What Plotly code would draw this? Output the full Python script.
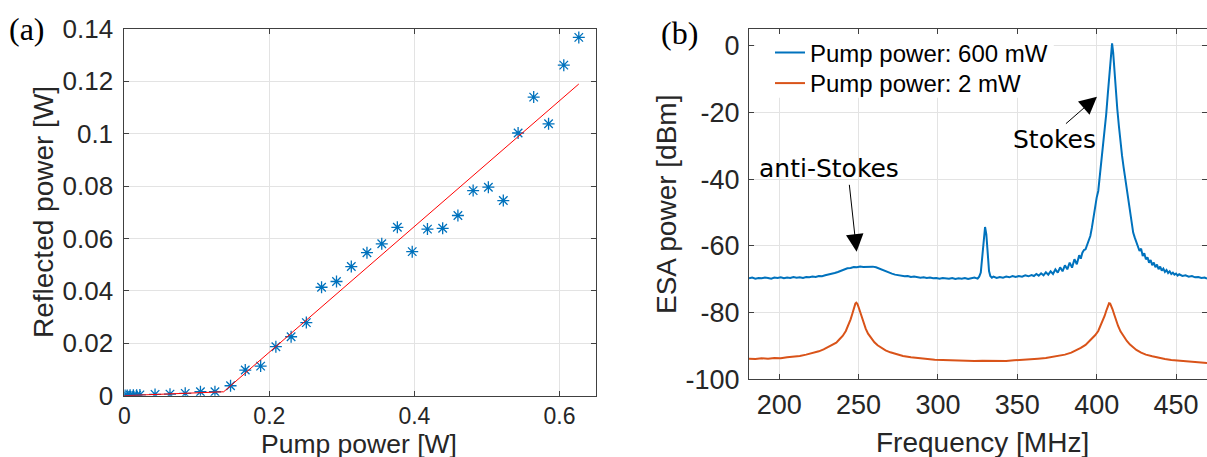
import plotly.graph_objects as go

# ---------------- Panel (a) data ----------------
pump_w = [0.001, 0.004, 0.008, 0.0125, 0.017, 0.0215, 0.0424, 0.063, 0.084, 0.105,
          0.125, 0.1465, 0.1668, 0.188, 0.209, 0.230, 0.251, 0.272, 0.2926, 0.313,
          0.3346, 0.355, 0.3765, 0.397, 0.418, 0.439, 0.460, 0.481, 0.502, 0.5226,
          0.543, 0.5645, 0.585, 0.606, 0.6267]
reflected_w = [0.0001, 0.0001, 0.0002, 0.0002, 0.0002, 0.0003, 0.0005, 0.0006, 0.0009, 0.0015,
               0.0015, 0.0038, 0.0098, 0.0113, 0.0187, 0.0225, 0.0279, 0.0414, 0.0436, 0.0493,
               0.0546, 0.0580, 0.0643, 0.0550, 0.0636, 0.0639, 0.0688, 0.0783, 0.0796, 0.0745,
               0.1003, 0.1140, 0.1038, 0.1262, 0.1368]
fit_x = [0.0, 0.137, 0.6267]
fit_y = [0.0, 0.0015, 0.119]

a_xticks = [0, 0.2, 0.4, 0.6]
a_xticktext = ["0", "0.2", "0.4", "0.6"]
a_yticks = [0, 0.02, 0.04, 0.06, 0.08, 0.1, 0.12, 0.14]
a_yticktext = ["0", "0.02", "0.04", "0.06", "0.08", "0.1", "0.12", "0.14"]

# ---------------- Panel (b) data ----------------
freq_600 = [181, 183, 185, 187, 189, 191, 193, 195, 197, 199, 201, 203, 205, 207, 209, 211, 213, 215,
            217, 219, 221, 223, 225, 227, 229, 231, 233, 235, 237, 239, 241, 243, 245, 247, 249, 251,
            253, 255, 257, 259, 261, 263, 265, 267, 269, 271, 273, 275, 277, 279, 281, 283, 285, 287,
            289, 291, 293, 295, 297, 299, 301, 303, 305, 307, 309, 311, 313, 315, 317, 319, 321, 323,
            325, 326, 327, 328, 329, 329.7, 330.5, 331.3, 332.2, 333, 334, 335, 337, 339, 341, 343,
            345, 347, 349, 351, 353, 355, 357, 359, 360.5, 362, 363.5, 365, 366.5, 368, 369.5, 371,
            372.5, 374, 375.5, 377, 378.5, 380, 381.5, 383, 384.5, 386, 387.5, 389, 390, 391, 392,
            393, 394, 395, 396, 397, 398, 399, 400, 401, 402, 403, 404, 405, 406, 407, 408, 409,
            409.7, 410.4, 411, 412, 413, 414, 415, 416, 417, 418, 419, 420, 421, 422, 423, 424, 425,
            426, 427, 428, 429, 430, 431, 432, 433, 434, 435, 436, 437, 438, 439, 440, 441, 442, 443,
            444, 445, 446, 447, 448, 449, 450, 451, 452, 454, 456, 458, 460, 462, 464, 466, 468, 469.5]
esa_600 = [-69.7, -69.5, -69.8, -69.6, -69.7, -69.5, -69.6, -69.8, -69.5, -69.6, -69.4, -69.7, -69.5,
           -69.6, -69.3, -69.5, -69.4, -69.6, -69.3, -69.4, -69.2, -69.3, -69.0, -69.1, -68.8, -68.6,
           -68.5, -68.1, -67.8, -67.4, -67.1, -66.7, -66.6, -66.3, -66.4, -66.2, -66.3, -66.2, -66.3,
           -66.2, -66.4, -66.8, -67.3, -67.7, -68.0, -68.3, -68.6, -68.8, -69.0, -69.1, -69.0, -69.3,
           -69.2, -69.4, -69.5, -69.4, -69.6, -69.5, -69.7, -69.6, -69.8, -69.6, -69.7, -69.8, -69.6,
           -69.9, -69.7, -69.8, -69.6, -69.9, -69.7, -69.5, -69.8, -69.2, -68.0, -63.5, -57.0, -54.3,
           -56.5, -62.0, -67.5, -69.0, -69.5, -69.2, -69.6, -69.3, -69.5, -69.2, -69.4, -69.0, -69.3,
           -69.0, -69.2, -68.8, -69.1, -68.7, -69.0, -68.4, -68.9, -68.2, -68.8, -67.9, -68.6, -67.6,
           -68.4, -67.0, -68.0, -66.4, -67.6, -65.8, -67.0, -65.0, -66.5, -64.0, -65.5, -62.8, -63.8,
           -62.0, -61.2, -61.0, -59.5, -58.5, -57.0, -54.5, -51.0, -47.5, -45.5, -43.5, -39.0, -35.0,
           -31.0, -26.0, -20.5, -14.5, -8.5, -2.5, 0.8, -2.0, -6.5, -13.0, -19.0, -24.0, -29.0, -33.0,
           -36.5, -39.8, -42.5, -45.0, -48.5, -52.5, -56.0, -57.5, -59.0, -59.8, -61.5, -60.8, -63.0,
           -62.2, -64.0, -63.4, -65.0, -64.2, -65.8, -65.0, -66.4, -65.6, -67.0, -66.2, -67.4, -66.8,
           -67.8, -67.2, -68.1, -67.6, -68.4, -68.0, -68.6, -68.3, -68.9, -68.5, -69.0, -68.8, -69.2,
           -69.0, -69.4, -69.3, -69.6, -69.5, -69.8]

freq_2 = [181, 185, 189, 193, 197, 201, 205, 209, 213, 217, 221, 225, 228, 231, 234, 236, 238, 240,
          242, 243.5, 245, 246, 247, 248, 248.6, 249.3, 250, 251, 252, 253, 254.5, 256, 258, 260,
          262, 264, 267, 270, 274, 278, 283, 288, 293, 298, 303, 308, 313, 318, 323, 328, 333, 338,
          343, 348, 353, 358, 363, 368, 372, 376, 380, 384, 387, 390, 393, 395, 397, 399, 401, 402.5,
          404, 405, 406, 407, 407.8, 408.5, 409.3, 410, 411, 412, 413.5, 415, 417, 419, 421, 423,
          425, 428, 431, 435, 439, 443, 447, 451, 455, 459, 463, 467, 469.5]
esa_2 = [-93.8, -93.9, -93.7, -93.8, -93.6, -93.7, -93.4, -93.3, -93.0, -92.6, -92.2, -91.6, -91.0,
         -90.3, -89.6, -89.0, -88.0, -87.0, -85.5, -84.0, -82.0, -80.5, -78.8, -77.3, -77.0, -77.4,
         -78.3, -79.8, -81.5, -83.0, -84.8, -86.3, -87.8, -88.9, -89.8, -90.5, -91.3, -91.9, -92.5,
         -93.0, -93.4, -93.7, -93.9, -94.1, -94.2, -94.3, -94.4, -94.3, -94.5, -94.4, -94.5, -94.4,
         -94.5, -94.3, -94.2, -94.0, -93.8, -93.6, -93.3, -93.0, -92.6, -92.0, -91.4, -90.6, -89.7,
         -88.8, -87.8, -86.8, -85.5, -84.0, -82.5, -81.0, -79.5, -78.0, -77.2, -77.3, -78.0, -79.0,
         -80.5, -82.0, -84.0, -85.6, -87.2, -88.5, -89.6, -90.5, -91.2, -92.0, -92.6, -93.1, -93.6,
         -93.9, -94.2, -94.4, -94.6, -94.7, -94.9, -95.0, -95.1]

b_xticks = [200, 250, 300, 350, 400, 450]
b_xticktext = ["200", "250", "300", "350", "400", "450"]
b_yticks = [0, -20, -40, -60, -80, -100]
b_yticktext = ["0", "-20", "-40", "-60", "-80", "-100"]

W, H = 1207, 457
SANS = "Liberation Sans, Arial, sans-serif"
AX = "#404040"
GRID = "#e3e3e3"


def px(xp):
    return xp / W


def py(yp):
    return 1 - yp / H


fig = go.Figure()

fig.add_trace(go.Scatter(x=pump_w, y=reflected_w, mode="markers", showlegend=False,
                         marker=dict(symbol="asterisk-open", size=10, color="#0072BD",
                                     line=dict(color="#0072BD", width=1.3)),
                         xaxis="x", yaxis="y"))
fig.add_trace(go.Scatter(x=fit_x, y=fit_y, mode="lines", showlegend=False,
                         line=dict(color="#ff0000", width=1), xaxis="x", yaxis="y"))

fig.add_trace(go.Scatter(x=freq_600, y=esa_600, mode="lines", name="Pump power: 600 mW",
                         line=dict(color="#0072BD", width=2), xaxis="x2", yaxis="y2",
                         legend="legend"))
fig.add_trace(go.Scatter(x=freq_2, y=esa_2, mode="lines", name="Pump power: 2 mW",
                         line=dict(color="#D95319", width=2), xaxis="x2", yaxis="y2",
                         legend="legend2"))

common = dict(showline=True, linecolor=AX, linewidth=1, mirror="ticks", ticks="inside",
              ticklen=5, tickcolor=AX, showgrid=True, gridcolor=GRID, gridwidth=1,
              zeroline=False, tickmode="array", automargin=False)

legend_font = dict(family=SANS, size=24, color="#000000")

fig.update_layout(
    template="none",
    width=W, height=H,
    margin=dict(l=0, r=0, t=0, b=0, pad=0, autoexpand=False),
    paper_bgcolor="white", plot_bgcolor="white",
    font=dict(family=SANS, color="#262626"),
    hovermode=False,
    xaxis=dict(domain=[px(124.3), px(595.7)], range=[0, 0.65], anchor="y",
               tickvals=a_xticks, ticktext=a_xticktext,
               tickfont=dict(size=23, color="#262626"), ticklabelstandoff=0, **common),
    yaxis=dict(domain=[py(395.7), py(29)], range=[0, 0.14], anchor="x",
               tickvals=a_yticks, ticktext=a_yticktext,
               tickfont=dict(size=26, color="#262626"), ticklabelstandoff=5, **common),
    xaxis2=dict(domain=[px(749), 1.0], range=[181, 469.5], anchor="y2",
                tickvals=b_xticks, ticktext=b_xticktext,
                tickfont=dict(size=27, color="#262626"), ticklabelstandoff=1, **common),
    yaxis2=dict(domain=[py(379.3), py(29.3)], range=[-100, 5], anchor="x2",
                tickvals=b_yticks, ticktext=b_yticktext,
                tickfont=dict(size=27, color="#262626"), ticklabelstandoff=3, **common),
    legend=dict(x=px(770), y=py(30.5), xanchor="left", yanchor="top",
                bgcolor="rgba(0,0,0,0)", borderwidth=0, font=legend_font),
    legend2=dict(x=px(770), y=py(61), xanchor="left", yanchor="top",
                 bgcolor="rgba(0,0,0,0)", borderwidth=0, font=legend_font),
    shapes=[dict(type="rect", xref="x2", yref="y2", x0=185, x1=373, y0=-15.5, y1=4.6,
                 fillcolor="white", line=dict(width=0), layer="between")],
)

annotations = [
    # panel labels
    dict(text="(a)", x=px(26.5), y=py(29), xref="paper", yref="paper", showarrow=False,
         font=dict(family="Liberation Serif, Times New Roman, serif", size=32, color="#000"),
         xanchor="center", yanchor="middle"),
    dict(text="(b)", x=px(679), y=py(33), xref="paper", yref="paper", showarrow=False,
         font=dict(family="Liberation Serif, Times New Roman, serif", size=32, color="#000"),
         xanchor="center", yanchor="middle"),
    # axis titles
    dict(text="Reflected power [W]", x=px(43), y=py(212), xref="paper", yref="paper",
         showarrow=False, textangle=-90, font=dict(family=SANS, size=28, color="#262626"),
         xanchor="center", yanchor="middle"),
    dict(text="Pump power [W]", x=px(359.5), y=py(427), xref="paper", yref="paper",
         showarrow=False, font=dict(family=SANS, size=26.5, color="#262626"),
         xanchor="center", yanchor="top"),
    dict(text="ESA power [dBm]", x=px(666), y=py(205), xref="paper", yref="paper",
         showarrow=False, textangle=-90, font=dict(family=SANS, size=28, color="#262626"),
         xanchor="center", yanchor="middle"),
    dict(text="Frequency [MHz]", x=px(982.5), y=py(425), xref="paper", yref="paper",
         showarrow=False, font=dict(family=SANS, size=28, color="#262626"),
         xanchor="center", yanchor="top"),
    # spectral labels
    dict(text="anti-Stokes", x=231.7, y=-36.9, xref="x2", yref="y2", showarrow=False,
         font=dict(family="DejaVu Sans, Verdana, sans-serif", size=25, color="#000"),
         xanchor="center", yanchor="middle"),
    dict(text="Stokes", x=373.4, y=-28.0, xref="x2", yref="y2", showarrow=False,
         font=dict(family="DejaVu Sans, Verdana, sans-serif", size=25, color="#000"),
         xanchor="center", yanchor="middle"),
    # arrows
    dict(text="", x=248.8, y=-61.7, ax=244.1, ay=-41.2, xref="x2", yref="y2",
         axref="x2", ayref="y2", showarrow=True, arrowhead=2, arrowsize=3.5,
         arrowwidth=1, arrowcolor="#000", standoff=0),
    dict(text="", x=400.2, y=-15.2, ax=379.7, ay=-23.7, xref="x2", yref="y2",
         axref="x2", ayref="y2", showarrow=True, arrowhead=2, arrowsize=3.5,
         arrowwidth=1, arrowcolor="#000", standoff=0),
]
fig.update_layout(annotations=annotations)

fig.write_html("out.html", config={"displayModeBar": False},
               post_script="document.body.style.margin='0px';document.body.style.overflow='hidden';")
